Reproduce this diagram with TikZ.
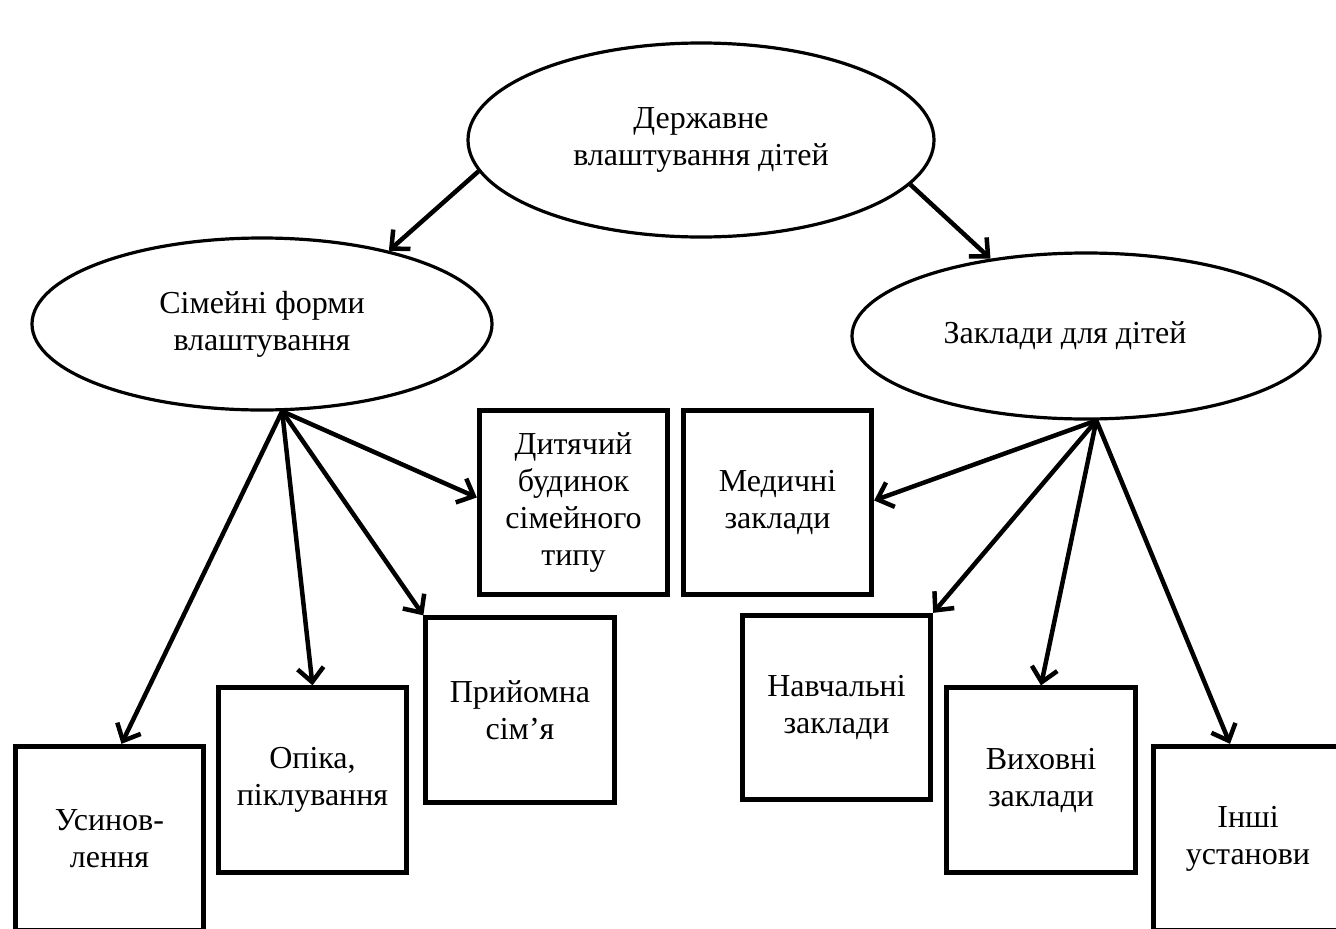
\documentclass[tikz,border=0pt]{standalone}
\usepackage{fontspec}
\setmainfont{Liberation Serif}
\usetikzlibrary{shapes.geometric,arrows.meta}
\begin{document}
\begin{tikzpicture}[x=1pt,y=-1pt,
  txt/.style={font=\fontsize{32}{37}\selectfont},
  oval/.style={ellipse,draw,line width=3.2pt,inner sep=0pt,align=center,txt},
  card/.style={rectangle,draw,line width=4.8pt,minimum width=188.5pt,minimum height=184.5pt,inner sep=0pt,align=center,txt},
  link/.style={line width=4.5pt,-{Straight Barb[length=14pt,width=26pt,line width=4.5pt]}}]
\useasboundingbox (0,0) rectangle (1336,929);
\clip (0,0) rectangle (1336,929);

% ellipses
\node[oval,minimum width=466pt,minimum height=194pt] (T) at (701,140) {Державне\\влаштування дітей};
\node[oval,minimum width=460pt,minimum height=172pt] (L) at (262,324) {Сімейні форми\\влаштування};
\node[oval,minimum width=468pt,minimum height=166pt] (R) at (1086,336) {Заклади для дітей\hspace*{42pt}};

% boxes
\node[card] (D) at (573.5,502.5) {Дитячий\\будинок\\сімейного\\типу};
\node[card] (M) at (777.5,502.5) {Медичні\\заклади};
\node[card] (P) at (520,710) {Прийомна\\сім’я};
\node[card] (N) at (836.5,707.5) {Навчальні\\заклади};
\node[card] (O) at (312.5,780) {Опіка,\\піклування};
\node[card] (V) at (1041,780) {Виховні\\заклади};
\node[card] (U) at (109.5,838.5) {Усинов-\\лення};
\node[card] (I) at (1248,838.5) {Інші\\установи};

% connectors
\draw[link] (T.188.5) -- (L.30);
\draw[link] (T.-12) -- (R.141);

\draw[link] (L.-77) -- ([xshift=12pt]U.north);
\draw[link] (L.-77) -- (O.north);
\draw[link] (L.-77) -- (P.north west);
\draw[link] (L.-77) -- ([yshift=5pt]D.west);

\draw[link] (R.-83) -- ([yshift=2pt]M.east);
\draw[link] (R.-83) -- (N.north east);
\draw[link] (R.-83) -- (V.north);
\draw[link] (R.-83) -- ([xshift=-18pt]I.north);
\end{tikzpicture}
\end{document}
